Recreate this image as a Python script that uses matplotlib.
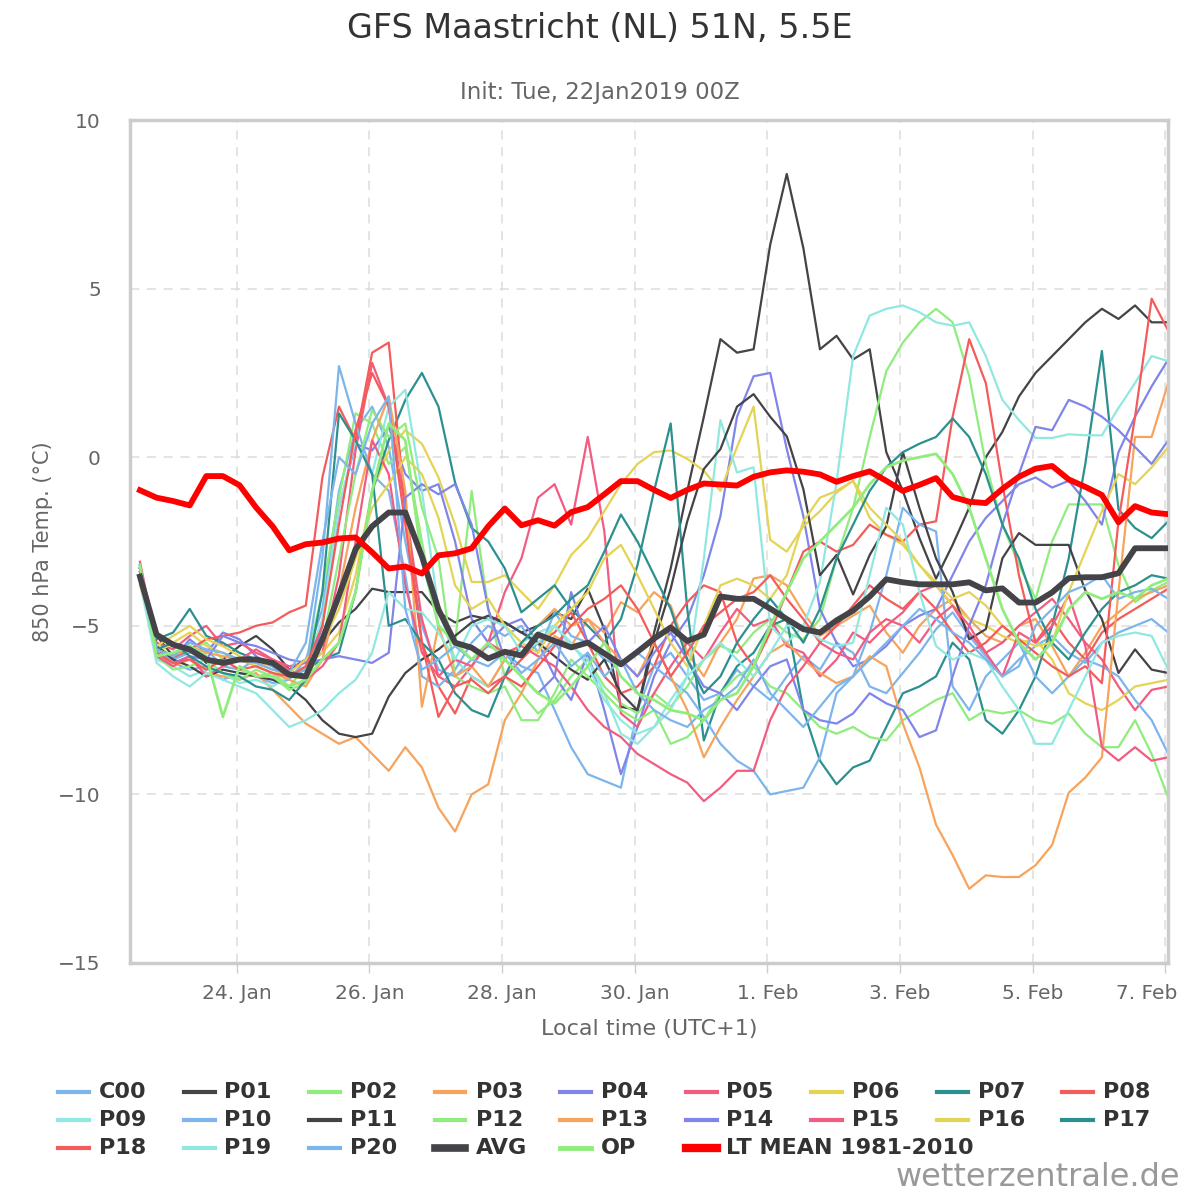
import numpy as np
import matplotlib
matplotlib.use("Agg")
import matplotlib.pyplot as plt
import matplotlib.dates as mdates
import matplotlib.transforms as mtransforms
from matplotlib.lines import Line2D

# 6-hourly steps, local time (UTC+1), first point 22 Jan 13:00
times = np.arange(np.datetime64("2019-01-22T13:00"), np.datetime64("2019-02-07T07:00"),
                  np.timedelta64(6, "h"))

c00 = [-3.4, -5.9, -6.1, -6.3, -6.2, -6.6, -6.4, -6.5,
       -6.7, -6.6, -6.0, -4.5, -1.0, 0.8, 1.5, 0.3,
       -2.5, -5.0, -6.3, -6.5, -6.0, -5.6, -5.8, -6.2,
       -6.4, -7.5, -8.6, -9.4, -9.6, -9.8, -7.5, -6.2,
       -5.8, -6.5, -7.2, -7.0, -6.3, -6.8, -7.2, -6.5,
       -5.9, -6.3, -5.5, -5.8, -6.8, -7.0, -6.4, -5.8,
       -5.1, -4.6, -5.3, -5.9, -6.5, -6.0, -5.6, -5.3,
       -5.8, -6.1, -5.5, -5.2, -5.0, -4.8, -5.2]
p01 = [-3.6, -5.3, -5.9, -5.6, -6.1, -6.0, -5.6, -5.3,
       -5.7, -6.3, -6.0, -5.5, -4.9, -4.5, -3.9, -4.0,
       -4.0, -4.0, -4.6, -4.9, -4.7, -4.8, -4.9, -5.2,
       -5.0, -4.6, -4.8, -3.9, -5.1, -7.4, -7.5, -5.2,
       -3.3, -1.0, 1.2, 3.5, 3.1, 3.2, 6.3, 8.4,
       6.2, 3.2, 3.6, 2.9, 3.2, 0.15, -1.0, -2.4,
       -3.6, -2.6, -1.5, 0.0, 0.75, 1.8, 2.5, 3.0,
       3.5, 4.0, 4.4, 4.1, 4.5, 4.0, 4.0]
p02 = [-3.3, -5.6, -5.9, -5.7, -5.5, -6.0, -6.3, -6.5,
       -6.4, -6.8, -6.2, -4.0, -1.2, 1.3, 1.0, -0.2,
       0.3, -2.5, -5.0, -5.5, -1.0, -4.5, -6.5, -7.0,
       -7.6, -7.2, -6.5, -6.0, -6.8, -7.3, -7.6, -7.0,
       -7.4, -6.8, -6.0, -5.6, -5.8, -5.2, -4.8, -5.2,
       -5.4, -4.8, -3.0, -1.5, 0.6, 2.55, 3.4, 4.0,
       4.4, 4.0, 2.4, -0.2, -2.0, -3.2, -4.2, -2.5,
       -1.4, -1.4, -1.4, -3.2, -4.3, -3.95, -3.7]
p03 = [-3.4, -5.8, -6.2, -6.0, -6.4, -6.5, -6.6, -6.4,
       -6.9, -7.4, -7.9, -8.2, -8.5, -8.3, -8.8, -9.3,
       -8.6, -9.2, -10.4, -11.1, -10.0, -9.7, -7.8, -7.0,
       -6.0, -5.3, -5.6, -4.8, -5.2, -4.3, -4.6, -4.0,
       -4.4, -5.8, -6.5, -5.5, -4.8, -3.6, -3.5, -3.8,
       -4.6, -5.3, -5.0, -4.7, -4.4, -5.2, -5.8, -5.0,
       -4.5, -4.2, -4.8, -5.3, -5.5, -5.0, -4.8, -5.6,
       -6.5, -5.8, -5.0, -4.6, -4.2, -4.0, -3.8]
p04 = [-3.2, -5.7, -6.0, -5.4, -5.8, -5.2, -5.4, -5.9,
       -6.2, -6.4, -6.6, -5.0, -1.5, 0.4, 0.2, 0.9,
       -0.5, -1.0, -0.8, -2.5, -4.8, -5.5, -5.0, -4.8,
       -5.5, -6.5, -7.2, -5.8, -7.5, -9.4, -8.0, -6.5,
       -5.5, -4.8, -3.5, -1.75, 1.2, 2.4, 2.5, 0.24,
       -1.75, -4.5, -5.5, -6.2, -6.0, -5.6, -5.0, -4.7,
       -4.5, -3.5, -2.5, -1.8, -1.3, -0.8, -0.6, -0.9,
       -0.7, -1.3, -2.0, 0.15, 1.2, 2.1, 2.9]
p05 = [-3.1, -5.5, -5.7, -5.3, -5.0, -5.6, -5.5, -5.8,
       -6.0, -6.2, -6.1, -5.8, -3.5, 0.2, 2.8, 1.5,
       -1.5, -4.8, -6.5, -6.8, -6.2, -5.5, -4.0, -3.0,
       -1.2, -0.8, -2.0, 0.6, -2.2, -7.6, -8.0, -7.0,
       -6.2, -5.5, -6.0, -5.2, -4.5, -5.0, -4.8, -5.6,
       -5.8, -6.5, -6.0, -5.2, -5.5, -5.0, -4.6, -4.0,
       -3.8, -4.4, -5.2, -5.8, -5.5, -5.0, -4.6, -4.2,
       -4.8, -5.5, -6.0, -6.8, -7.5, -6.9, -6.8]
p06 = [-3.5, -5.8, -5.5, -5.2, -5.6, -5.8, -6.0, -6.1,
       -6.3, -6.5, -6.2, -5.8, -5.2, -3.5, -1.0, 0.2,
       0.8, 0.4, -0.6, -2.0, -3.7, -3.7, -3.5, -4.0,
       -4.5, -3.8, -2.9, -2.4, -1.6, -0.8, -0.2, 0.15,
       0.2, -0.05, -0.4, -1.0, 0.3, 1.5, -2.45, -2.8,
       -2.05, -1.6, -1.05, -0.7, -1.8, -2.3, -2.6, -3.2,
       -3.8, -4.4, -4.8, -5.0, -5.3, -5.5, -5.4, -6.0,
       -7.0, -7.3, -7.5, -7.2, -6.8, -6.7, -6.6]
p07 = [-3.3, -5.4, -5.2, -4.5, -5.3, -5.5, -5.8, -6.0,
       -6.2, -6.5, -6.3, -6.0, -5.8, -4.0, -1.0, 0.5,
       1.7, 2.5, 1.5, -0.75, -2.1, -2.5, -3.3, -4.6,
       -4.2, -3.8, -4.5, -5.0, -5.5, -4.8, -3.2, -1.0,
       1.0, -4.5, -8.4, -7.0, -6.2, -5.8, -5.0, -4.8,
       -7.5, -9.0, -9.7, -9.2, -9.0, -8.0, -7.0, -6.8,
       -6.5, -5.5, -6.0, -7.8, -8.2, -7.5, -6.5, -5.0,
       -3.0, -0.2, 3.15, -1.55, -2.1, -2.4, -1.9]
p08 = [-3.2, -5.6, -6.0, -5.7, -5.4, -5.3, -5.2, -5.0,
       -4.9, -4.6, -4.4, -0.6, 1.5, 0.5, 3.1, 3.4,
       -1.5, -5.5, -6.8, -7.6, -6.5, -6.8, -6.5, -6.0,
       -5.5, -5.2, -4.6, -5.5, -6.5, -7.0, -6.8, -6.2,
       -5.0, -4.3, -3.8, -4.0, -5.5, -6.2, -5.2, -4.0,
       -2.8, -2.5, -2.8, -2.6, -2.0, -2.3, -2.5, -2.0,
       -1.9, 1.2, 3.5, 2.2, -0.8, -3.5, -5.5, -4.8,
       -5.5, -6.0, -5.2, -4.8, -4.5, -4.2, -3.9]
p09 = [-3.6, -6.0, -6.2, -6.5, -6.3, -6.4, -6.7, -6.6,
       -6.8, -6.5, -6.2, -4.8, -1.5, 0.5, -0.5, 1.5,
       2.0, -1.0, -4.5, -6.0, -6.5, -6.8, -6.0, -5.5,
       -5.2, -5.0, -5.6, -6.0, -7.0, -8.2, -8.5, -8.0,
       -7.2, -6.5, -3.0, 1.1, -0.45, -0.3, -5.0, -5.5,
       -5.0, -3.7, -0.75, 3.0, 4.2, 4.4, 4.5, 4.3,
       4.0, 3.9, 4.0, 3.0, 1.7, 1.1, 0.57, 0.57,
       0.68, 0.65, 0.65, 1.46, 2.2, 3.0, 2.85]
p10 = [-3.3, -5.8, -6.0, -5.8, -5.7, -6.2, -6.3, -6.0,
       -6.2, -6.5, -6.3, -3.0, 2.7, 1.0, -0.5, -1.0,
       -3.5, -6.5, -6.8, -6.3, -5.5, -5.0, -5.3, -5.0,
       -5.8, -4.6, -5.3, -5.5, -6.0, -6.2, -5.8, -6.2,
       -6.6, -7.0, -7.7, -8.5, -9.0, -9.3, -10.0, -9.9,
       -9.8, -8.9, -7.0, -6.5, -5.2, -3.5, -1.5, -2.0,
       -2.2, -6.8, -7.5, -6.5, -6.0, -5.5, -6.5, -7.0,
       -6.5, -6.0, -6.2, -6.5, -7.2, -7.8, -8.8]
p11 = [-3.3, -5.6, -6.0, -6.2, -6.5, -6.3, -6.4, -6.5,
       -6.6, -6.8, -7.2, -7.8, -8.2, -8.3, -8.2, -7.1,
       -6.4, -6.0, -5.7, -5.3, -4.9, -4.7, -4.9, -5.2,
       -5.5, -5.9, -6.3, -6.6, -6.0, -7.0, -7.5, -5.5,
       -3.9, -1.9, -0.35, 0.24, 1.5, 1.87, 1.2, 0.62,
       -0.95, -3.5, -2.9, -4.07, -2.9, -2.05, 0.15, -1.5,
       -3.0, -4.0, -5.4, -5.1, -3.0, -2.25, -2.6, -2.6,
       -2.6, -3.95, -4.8, -6.4, -5.7, -6.3, -6.4]
p12 = [-3.4, -5.9, -6.3, -6.2, -6.0, -6.4, -6.6, -6.3,
       -6.5, -6.9, -6.7, -5.5, -3.0, -0.5, 1.4, 0.6,
       1.0, -1.5, -3.0, -6.5, -6.8, -7.0, -6.8, -7.8,
       -7.8, -7.0, -6.0, -6.5, -7.0, -7.5, -7.8, -7.5,
       -8.5, -8.3, -7.8, -7.0, -6.5, -6.2, -6.8, -7.0,
       -7.5, -8.0, -8.2, -8.0, -8.3, -8.4, -7.8, -7.5,
       -7.2, -7.0, -7.8, -7.5, -7.6, -7.5, -7.8, -7.9,
       -7.6, -8.2, -8.6, -8.6, -7.8, -8.8, -10.1]
p13 = [-3.5, -5.7, -5.9, -5.6, -5.8, -5.9, -6.0, -6.2,
       -6.4, -6.6, -6.8, -6.0, -4.0, -1.5, 0.5, 1.8,
       -1.0, -7.4, -5.0, -6.5, -6.2, -6.8, -6.0, -5.5,
       -5.0, -4.5, -5.0, -4.8, -5.5, -6.0, -6.5, -5.5,
       -6.5, -7.5, -8.9, -8.0, -7.2, -6.5, -5.8, -5.5,
       -6.0, -6.4, -6.7, -6.5, -5.9, -6.2, -7.9, -9.2,
       -10.9, -11.8, -12.8, -12.4, -12.45, -12.45, -12.1, -11.5,
       -9.95, -9.5, -8.9, -4.0, 0.6, 0.6, 2.2]
p14 = [-3.3, -5.8, -6.1, -5.9, -6.0, -5.3, -5.5, -5.6,
       -5.8, -6.0, -6.1, -6.0, -5.9, -6.0, -6.1, -5.8,
       -1.2, -0.8, -1.1, -0.8, -2.0, -4.5, -6.0, -6.5,
       -7.0, -6.5, -4.0, -5.5, -5.0, -6.0, -6.5, -5.8,
       -5.2, -6.0, -6.8, -7.0, -7.5, -6.8, -6.2, -6.0,
       -7.5, -7.8, -7.9, -7.6, -7.0, -7.3, -7.5, -8.3,
       -8.1, -6.5, -5.0, -3.8, -2.0, -0.5, 0.9, 0.8,
       1.7, 1.5, 1.2, 0.8, 0.3, -0.2, 0.5]
p15 = [-3.2, -5.9, -6.2, -5.9, -6.5, -6.2, -6.0, -5.7,
       -6.0, -6.3, -6.6, -6.2, -5.5, -2.5, 0.5, -0.5,
       -3.8, -5.8, -6.5, -6.0, -6.2, -5.5, -5.8, -5.6,
       -5.9, -6.2, -6.8, -7.5, -8.0, -8.3, -8.8, -9.1,
       -9.4, -9.65, -10.2, -9.8, -9.3, -9.3, -7.8, -6.8,
       -6.2, -5.5, -5.8, -6.0, -5.2, -4.8, -5.0, -5.5,
       -4.8, -4.4, -5.0, -5.8, -6.5, -5.2, -5.5, -5.0,
       -4.1, -5.6, -8.6, -9.0, -8.6, -9.0, -8.9]
p16 = [-3.8, -5.6, -5.3, -5.0, -5.4, -5.6, -5.9, -6.2,
       -6.1, -6.4, -6.0, -5.5, -4.5, -3.0, -1.5, -0.8,
       0.0, -0.5, -1.8, -3.8, -4.5, -4.2, -5.0, -5.5,
       -5.8, -5.0, -4.5, -4.0, -3.0, -2.6, -3.5, -4.5,
       -5.5, -6.2, -5.0, -3.8, -3.6, -3.8, -4.2, -3.5,
       -1.9, -1.2, -1.0, -0.7, -1.5, -2.0, -2.5, -3.2,
       -3.7, -4.2, -4.0, -4.4, -5.0, -5.4, -5.6, -5.5,
       -4.0, -2.8, -1.6, -0.5, -0.8, -0.3, 0.3]
p17 = [-3.5, -5.7, -5.5, -5.9, -6.2, -6.4, -6.5, -6.8,
       -6.9, -7.2, -6.6, -4.0, 1.3, 0.5, -0.5, -5.0,
       -4.8, -5.5, -6.0, -7.0, -7.5, -7.7, -6.5, -5.5,
       -5.0, -4.7, -4.2, -3.8, -2.8, -1.7, -2.5, -3.5,
       -4.5, -6.0, -7.0, -6.5, -5.5, -4.8, -4.2, -4.8,
       -5.5, -4.5, -3.0, -2.0, -1.0, -0.3, 0.15, 0.4,
       0.6, 1.15, 0.6, -0.5, -2.0, -3.0, -4.5, -5.5,
       -6.0, -5.2, -4.5, -4.0, -3.8, -3.5, -3.6]
p18 = [-3.4, -5.8, -6.1, -6.0, -6.3, -6.0, -6.3, -6.2,
       -6.4, -6.5, -6.2, -5.0, -2.0, 0.8, 2.5, 1.5,
       -2.0, -5.5, -7.7, -6.8, -6.6, -7.0, -6.5, -6.8,
       -6.2, -5.6, -5.0, -4.5, -4.2, -3.8, -4.5, -5.5,
       -6.5, -5.8, -5.0, -4.6, -4.2, -4.0, -3.5, -4.2,
       -4.8, -5.5, -5.0, -4.4, -3.8, -4.2, -4.5, -4.0,
       -4.5, -5.2, -5.8, -5.5, -5.0, -5.4, -5.8, -6.2,
       -6.5, -6.2, -6.7, -1.9, 1.2, 4.7, 3.75]
p19 = [-3.7, -6.1, -6.5, -6.8, -6.4, -6.6, -6.8, -7.0,
       -7.5, -8.0, -7.8, -7.5, -7.0, -6.6, -5.8, -4.0,
       -4.5, -4.6, -5.2, -6.0, -5.0, -4.8, -5.0, -5.8,
       -5.5, -5.0, -5.5, -6.2, -7.2, -7.8, -8.2, -8.0,
       -7.5, -6.5, -6.0, -5.5, -6.0, -6.5, -5.8, -5.0,
       -5.0, -5.4, -5.6, -5.5, -3.5, -1.5, -2.0, -4.0,
       -5.6, -6.0, -5.8, -6.0, -6.8, -7.5, -8.5, -8.5,
       -7.5, -6.5, -5.5, -5.3, -5.2, -5.3, -6.3]
p20 = [-3.3, -5.7, -5.9, -5.5, -5.7, -5.8, -6.0, -6.1,
       -6.3, -6.4, -5.5, -2.5, 0.0, -0.5, 1.0, 1.8,
       -4.5, -6.3, -6.0, -5.6, -6.0, -6.2, -5.8, -6.4,
       -6.0, -5.5, -6.2, -5.8, -6.5, -6.0, -7.0, -7.5,
       -7.8, -8.0, -7.5, -7.2, -6.8, -6.0, -7.0, -7.5,
       -8.0, -7.4, -6.8, -6.5, -6.0, -5.5, -5.0, -4.5,
       -4.8, -5.2, -5.5, -6.0, -6.5, -6.2, -5.0, -4.5,
       -4.0, -3.8, -3.5, -4.2, -4.0, -3.9, -4.2]
avg = [-3.54, -5.26, -5.56, -5.70, -6.0, -6.1, -6.0, -6.0,
       -6.1, -6.45, -6.5, -5.4, -4.1, -2.73, -2.05, -1.64,
       -1.64, -2.94, -4.52, -5.5, -5.65, -5.97, -5.77, -5.88,
       -5.26, -5.45, -5.64, -5.5, -5.82, -6.14, -5.77, -5.38,
       -5.05, -5.45, -5.26, -4.13, -4.2, -4.2, -4.49, -4.8,
       -5.1, -5.2, -4.84, -4.55, -4.13, -3.62, -3.71, -3.77,
       -3.77, -3.77, -3.71, -3.95, -3.89, -4.31, -4.31, -4.01,
       -3.59, -3.56, -3.56, -3.44, -2.7, -2.7, -2.7]
op = [-3.2, -5.9, -5.8, -5.6, -5.9, -7.7, -6.2, -6.5,
      -6.5, -6.8, -6.6, -6.0, -5.5, -4.0, -1.0, 1.0,
      0.5, -3.0, -5.0, -5.5, -6.0, -5.5, -6.0, -6.5,
      -7.0, -7.3, -6.8, -6.2, -5.5, -6.5, -7.0, -7.2,
      -7.5, -7.6, -7.8, -7.2, -7.0, -6.2, -5.0, -4.0,
      -3.0, -2.5, -2.0, -1.5, -0.8, -0.3, -0.1, 0.0,
      0.1, -0.5, -1.5, -3.0, -4.5, -5.5, -6.0, -5.5,
      -4.5, -4.0, -4.2, -4.0, -4.2, -3.8, -3.6]
lt_mean = [-0.98, -1.2, -1.3, -1.43, -0.56, -0.56, -0.83, -1.49,
           -2.05, -2.76, -2.58, -2.53, -2.41, -2.38, -2.82, -3.30,
           -3.24, -3.45, -2.91, -2.85, -2.70, -2.05, -1.52, -2.02,
           -1.87, -2.03, -1.63, -1.48, -1.10, -0.71, -0.71, -0.97,
           -1.21, -0.97, -0.78, -0.81, -0.84, -0.58, -0.45, -0.39,
           -0.43, -0.51, -0.73, -0.56, -0.42, -0.70, -1.0, -0.82,
           -0.62, -1.18, -1.32, -1.36, -0.94, -0.58, -0.34, -0.26,
           -0.66, -0.88, -1.12, -1.93, -1.45, -1.64, -1.69]

members = [c00, p01, p02, p03, p04, p05, p06, p07, p08, p09, p10,
           p11, p12, p13, p14, p15, p16, p17, p18, p19, p20]
member_names = ["C00"] + ["P%02d" % k for k in range(1, 21)]
palette = ["#7cb5ec", "#434348", "#90ed7d", "#f7a35c", "#8085e9",
           "#f15c80", "#e4d354", "#2b908f", "#f45b5b", "#91e8e1"]

tick_days = np.array(["2019-01-24", "2019-01-26", "2019-01-28", "2019-01-30",
                      "2019-02-01", "2019-02-03", "2019-02-05", "2019-02-07"],
                     dtype="datetime64[m]")

plt.rcParams["font.family"] = "DejaVu Sans"
fig = plt.figure(figsize=(12, 12), dpi=100)
ax = fig.add_axes([130 / 1200, 1 - 963 / 1200, 1038 / 1200, 843 / 1200])

entries = []
for k, (name, vals) in enumerate(zip(member_names, members)):
    col = palette[k % 10]
    ax.plot(times, vals, color=col, lw=1.6, zorder=2)
    entries.append((name, col, 3))
ax.plot(times, avg, color="#434348", lw=4.2, zorder=4)
entries.append(("AVG", "#434348", 5.5))
ax.plot(times, op, color="#90ed7d", lw=2.0, zorder=3)
entries.append(("OP", "#90ed7d", 3.5))
ax.plot(times, lt_mean, color="#ff0000", lw=4.2, zorder=5)
entries.append(("LT MEAN 1981-2010", "#ff0000", 6))

ax.set_xlim(times[0] - np.timedelta64(216, "m"), times[-1] - np.timedelta64(5, "m"))
ax.set_ylim(-15, 10)
ax.set_yticks([-15, -10, -5, 0, 5, 10])
ax.set_xticks(tick_days)
ax.xaxis.set_major_formatter(mdates.DateFormatter("%-d. %b"))
ax.grid(True, color="#dddddd", lw=1.1, ls=(0, (6, 5)))
ax.set_axisbelow(True)
ax.tick_params(axis="y", length=0, labelsize=14.5, labelcolor="#666666", pad=21)
ax.tick_params(axis="x", length=7, width=1, color="#cccccc", labelsize=14.5,
               labelcolor="#666666", pad=8)
for sp in ax.spines.values():
    sp.set_color("#cccccc")
    sp.set_linewidth(2.5)
ax.set_xlabel("Local time (UTC+1)", fontsize=16, color="#666666", labelpad=12)
ax.set_ylabel("850 hPa Temp. (°C)", fontsize=15, color="#666666", labelpad=4)

# last date label sits inside the frame, like the original
fig.canvas.draw()
last = ax.get_xticklabels()[-1]
last.set_transform(last.get_transform() + mtransforms.ScaledTranslation(-19 / 100, 0, fig.dpi_scale_trans))

fig.text(0.5, 1 - 28 / 1200, "GFS Maastricht (NL) 51N, 5.5E", ha="center", va="center",
         fontsize=24, color="#333333")
fig.text(0.5, 1 - 92 / 1200, "Init: Tue, 22Jan2019 00Z", ha="center", va="center",
         fontsize=16.5, color="#666666")

# legend laid out row by row like the original
for k, (name, col, lw) in enumerate(entries):
    row, c = divmod(k, 9)
    x0 = (58 + 125.5 * c) / 1200
    y0 = 1 - (1092 + 28 * row) / 1200
    fig.add_artist(Line2D([x0, x0 + 31 / 1200], [y0, y0], color=col, lw=lw))
    fig.text(x0 + 41 / 1200, y0, name, ha="left", va="center", fontsize=16,
             fontweight="bold", color="#333333")

fig.text(1 - 20 / 1200, 1 - 1178 / 1200, "wetterzentrale.de", ha="right", va="center",
         fontsize=23, color="#999999")

fig.savefig("out.png", dpi=100)
